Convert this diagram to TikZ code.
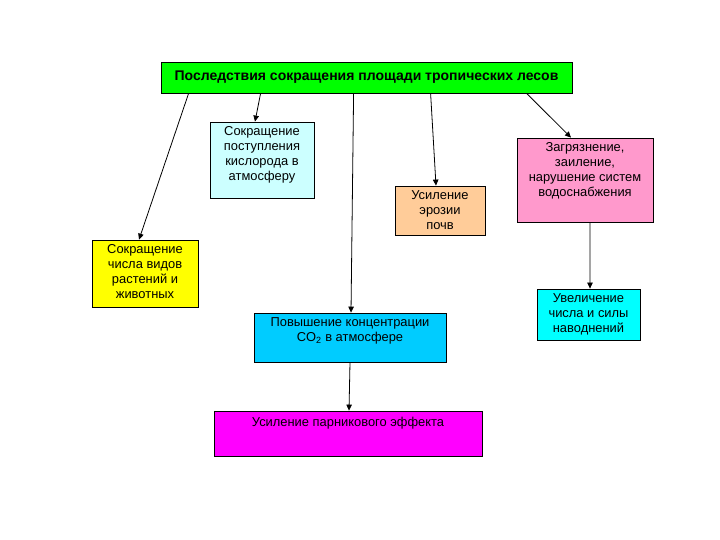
\documentclass[tikz,border=0pt]{standalone}
\usepackage{fontspec}
\setmainfont{Liberation Sans}
\usetikzlibrary{arrows.meta,calc}

\definecolor{topgreen}{RGB}{0,255,0}
\definecolor{oxycyan}{RGB}{204,255,255}
\definecolor{erosorange}{RGB}{255,204,153}
\definecolor{waterpink}{RGB}{255,153,204}
\definecolor{specyellow}{RGB}{255,255,0}
\definecolor{coblue}{RGB}{0,204,255}
\definecolor{floodcyan}{RGB}{0,255,255}
\definecolor{greenmag}{RGB}{255,0,255}

\begin{document}
\begin{tikzpicture}[
    x=1bp, y=-1bp,
    every node/.style={font=\fontsize{12.9bp}{15bp}\selectfont},
    effbox/.style={rectangle, draw, line width=0.8bp, inner sep=0pt},
    efftext/.style={anchor=north, align=center, inner sep=0pt, yshift=-5bp},
    effarrow/.style={-{Triangle[length=6bp, width=5.5bp]}, line width=0.8bp},
]

% page frame
\useasboundingbox (0,0) rectangle (720,540);

% ===== Top: main consequence =====
\node[effbox, fill=topgreen, minimum width=411bp, minimum height=31bp,
    font=\fontsize{14bp}{16bp}\selectfont\bfseries] (top) at (366.5,77.5)
    {Последствия сокращения площади тропических лесов};

% ===== Second level =====
\node[effbox, fill=oxycyan, minimum width=104bp, minimum height=76bp,
    label={[efftext]north:Сокращение\\поступления\\кислорода в\\атмосферу}]
    (oxygen) at (262,160) {};
\node[effbox, fill=erosorange, minimum width=90bp, minimum height=49bp,
    label={[efftext]north:Усиление\\эрозии\\почв}]
    (erosion) at (440,210.5) {};
\node[effbox, fill=waterpink, minimum width=136bp, minimum height=84bp,
    label={[efftext]north:Загрязнение,\\заиление,\\нарушение систем\\водоснабжения}]
    (water) at (585,180) {};
\node[effbox, fill=specyellow, minimum width=106bp, minimum height=67bp,
    label={[efftext]north:Сокращение\\числа видов\\растений и\\животных}]
    (species) at (145,273.5) {};
\node[effbox, fill=coblue, minimum width=192bp, minimum height=49bp,
    label={[efftext]north:Повышение концентрации\\CO\textsubscript{2} в атмосфере}]
    (co2) at (350,337.5) {};

% ===== Third level =====
\node[effbox, fill=floodcyan, minimum width=103bp, minimum height=51bp,
    label={[efftext]north:Увеличение\\числа и силы\\наводнений}]
    (flood) at (588.5,314.5) {};
\node[effbox, fill=greenmag, minimum width=268bp, minimum height=45bp,
    label={[efftext, yshift=-1bp]north:Усиление парникового эффекта}]
    (green) at (348,433.5) {};

% ===== Arrows =====
\draw[effarrow] ($(top.south west)+(28,0)$) -- ($(species.north)+(-6,0)$);
\draw[effarrow] ($(top.south west)+(100,0)$) -- ($(oxygen.north)+(-7,0)$);
\draw[effarrow] ($(top.south west)+(193,0)$) -- ($(co2.north)+(1,0)$);
\draw[effarrow] ($(top.south west)+(270,0)$) -- ($(erosion.north)+(-4,0)$);
\draw[effarrow] ($(top.south west)+(366,0)$) -- ($(water.north)+(-14,0)$);
\draw[effarrow] ($(water.south)+(5,0)$) -- ($(flood.north)+(1.5,0)$);
\draw[effarrow] (co2.south) -- ($(green.north)+(1,0)$);

\end{tikzpicture}
\end{document}
